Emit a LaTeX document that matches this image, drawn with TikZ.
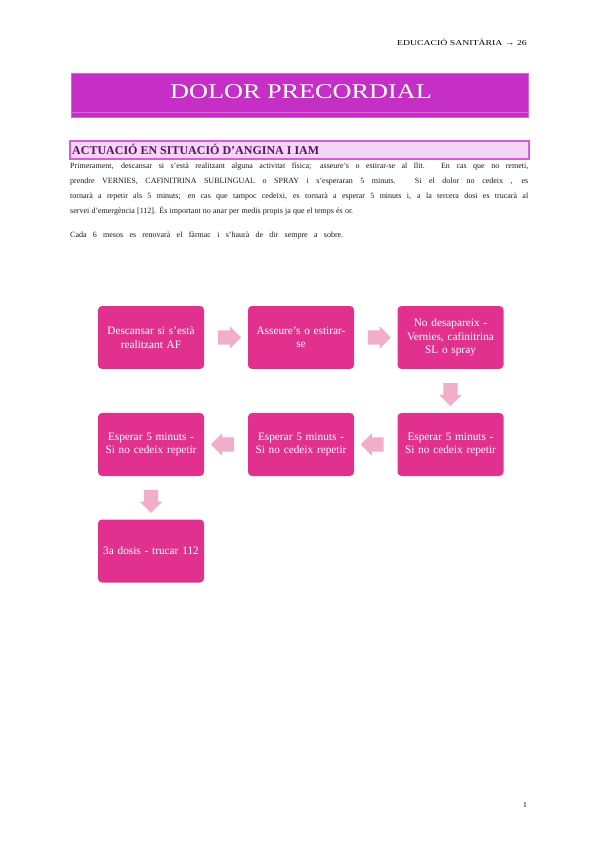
\documentclass[tikz,border=0pt]{standalone}
\usepackage{fontspec}
\setmainfont{Liberation Serif}
\usetikzlibrary{shapes.arrows}
\definecolor{boxc}{HTML}{E2308E}
\definecolor{arrc}{HTML}{F0AECA}
\definecolor{titlec}{HTML}{C62FC6}
\definecolor{titleline}{HTML}{D566D5}
\definecolor{headfill}{HTML}{F5D5F5}
\definecolor{headdraw}{HTML}{D35FD3}
\definecolor{headtext}{HTML}{5C1460}
\definecolor{bodytext}{HTML}{1A1A1A}
\begin{document}
\begin{tikzpicture}[x=1pt,y=-1pt,
  stepbox/.style={rounded corners=4pt, fill=boxc, text=white, inner sep=3pt,
    text width=100pt, minimum width=106pt, minimum height=63pt, align=center,
    font=\fontsize{11.3}{13.3}\selectfont},
  arr/.style={single arrow, fill=arrc, draw=none, inner sep=7pt,
    minimum height=23pt, single arrow head extend=4pt,
    single arrow head indent=0pt},
  bodyline/.style={anchor=base west, inner sep=0pt, text=bodytext,
    font=\fontsize{8}{9}\selectfont}
]
\useasboundingbox (0,0) rectangle (599,848);
\fill[white] (0,0) rectangle (599,848);

% running header
\node[anchor=base east, inner sep=0pt, font=\fontsize{7.5}{9}\selectfont] (runhead) at (527,46) {\scalebox{1.3}[1]{EDUCACIÓ SANITÀRIA → 26}};

% title bar
\fill[titlec] (71,73) rectangle (528,117);
\draw[titleline, line width=0.6pt] (71,73) rectangle (528,117);
\draw[titleline, line width=0.8pt] (71,112) -- (528,112);
\node[anchor=base, inner sep=0pt, text=white, font=\fontsize{21}{24}\selectfont] (title) at (301,99) {\scalebox{1.25}[1]{DOLOR PRECORDIAL}};

% section header
\draw[headdraw, fill=headfill, line width=1.1pt] (70,141) rectangle (529,159);
\node[anchor=base west, inner sep=0pt, text=headtext, font=\fontsize{12}{13}\selectfont\bfseries] (sect) at (72,154) {ACTUACIÓ EN SITUACIÓ D’ANGINA I IAM};

% body text
\node[bodyline] (l1) at (70,168) {\makebox[458pt][s]{Primerament, descansar si s'està realitzant alguna activitat física; asseure's o estirar-se al llit. En cas que no remeti,}};
\node[bodyline] (l2) at (70,183) {\makebox[458pt][s]{prendre VERNIES, CAFINITRINA SUBLINGUAL o SPRAY i s'esperaran 5 minuts. Si el dolor no cedeix , es}};
\node[bodyline] (l3) at (70,198) {\makebox[458pt][s]{tornarà a repetir als 5 minuts; en cas que tampoc cedeixi, es tornarà a esperar 5 minuts i, a la tercera dosi es trucarà al}};
\node[bodyline] (l4) at (70,213) {\makebox[283pt][s]{servei d'emergència [112]. És important no anar per medis propis ja que el temps és or.}};
\node[bodyline] (l5) at (70,237) {\makebox[273pt][s]{Cada 6 mesos es renovarà el fàrmac i s'haurà de dir sempre a sobre.}};

% flow boxes
\node[stepbox] (b1) at (151,337.5) {Descansar si s'està\\realitzant AF};
\node[stepbox] (b2) at (301,337.5) {Asseure's o estirar-\\se};
\node[stepbox] (b3) at (450.5,337.5) {No desapareix -\\Vernies, cafinitrina\\SL o spray};
\node[stepbox] (b4) at (450.5,444.5) {Esperar 5 minuts -\\Si no cedeix repetir};
\node[stepbox] (b5) at (301,444.5) {Esperar 5 minuts -\\Si no cedeix repetir};
\node[stepbox] (b6) at (151,444.5) {Esperar 5 minuts -\\Si no cedeix repetir};
\node[stepbox] (b7) at (151,551) {3a dosis - trucar 112};

% connectors (block arrows)
\path (b1) -- (b2) coordinate[midway] (m12);
\path (b2) -- (b3) coordinate[midway] (m23);
\path (b3) -- (b4) coordinate[midway] (m34);
\path (b4) -- (b5) coordinate[midway] (m45);
\path (b5) -- (b6) coordinate[midway] (m56);
\path (b6) -- (b7) coordinate[midway] (m67);
\node[arr, shape border rotate=0] (a12) at (m12) {};
\node[arr, shape border rotate=0] (a23) at (m23) {};
\node[arr, shape border rotate=270] (a34) at (m34) {};
\node[arr, shape border rotate=180] (a45) at (m45) {};
\node[arr, shape border rotate=180] (a56) at (m56) {};
\node[arr, shape border rotate=270] (a67) at (m67) {};

% page number
\node[anchor=base, inner sep=0pt, font=\fontsize{7.5}{9}\selectfont] (pnum) at (525,807) {1};
\end{tikzpicture}
\end{document}
